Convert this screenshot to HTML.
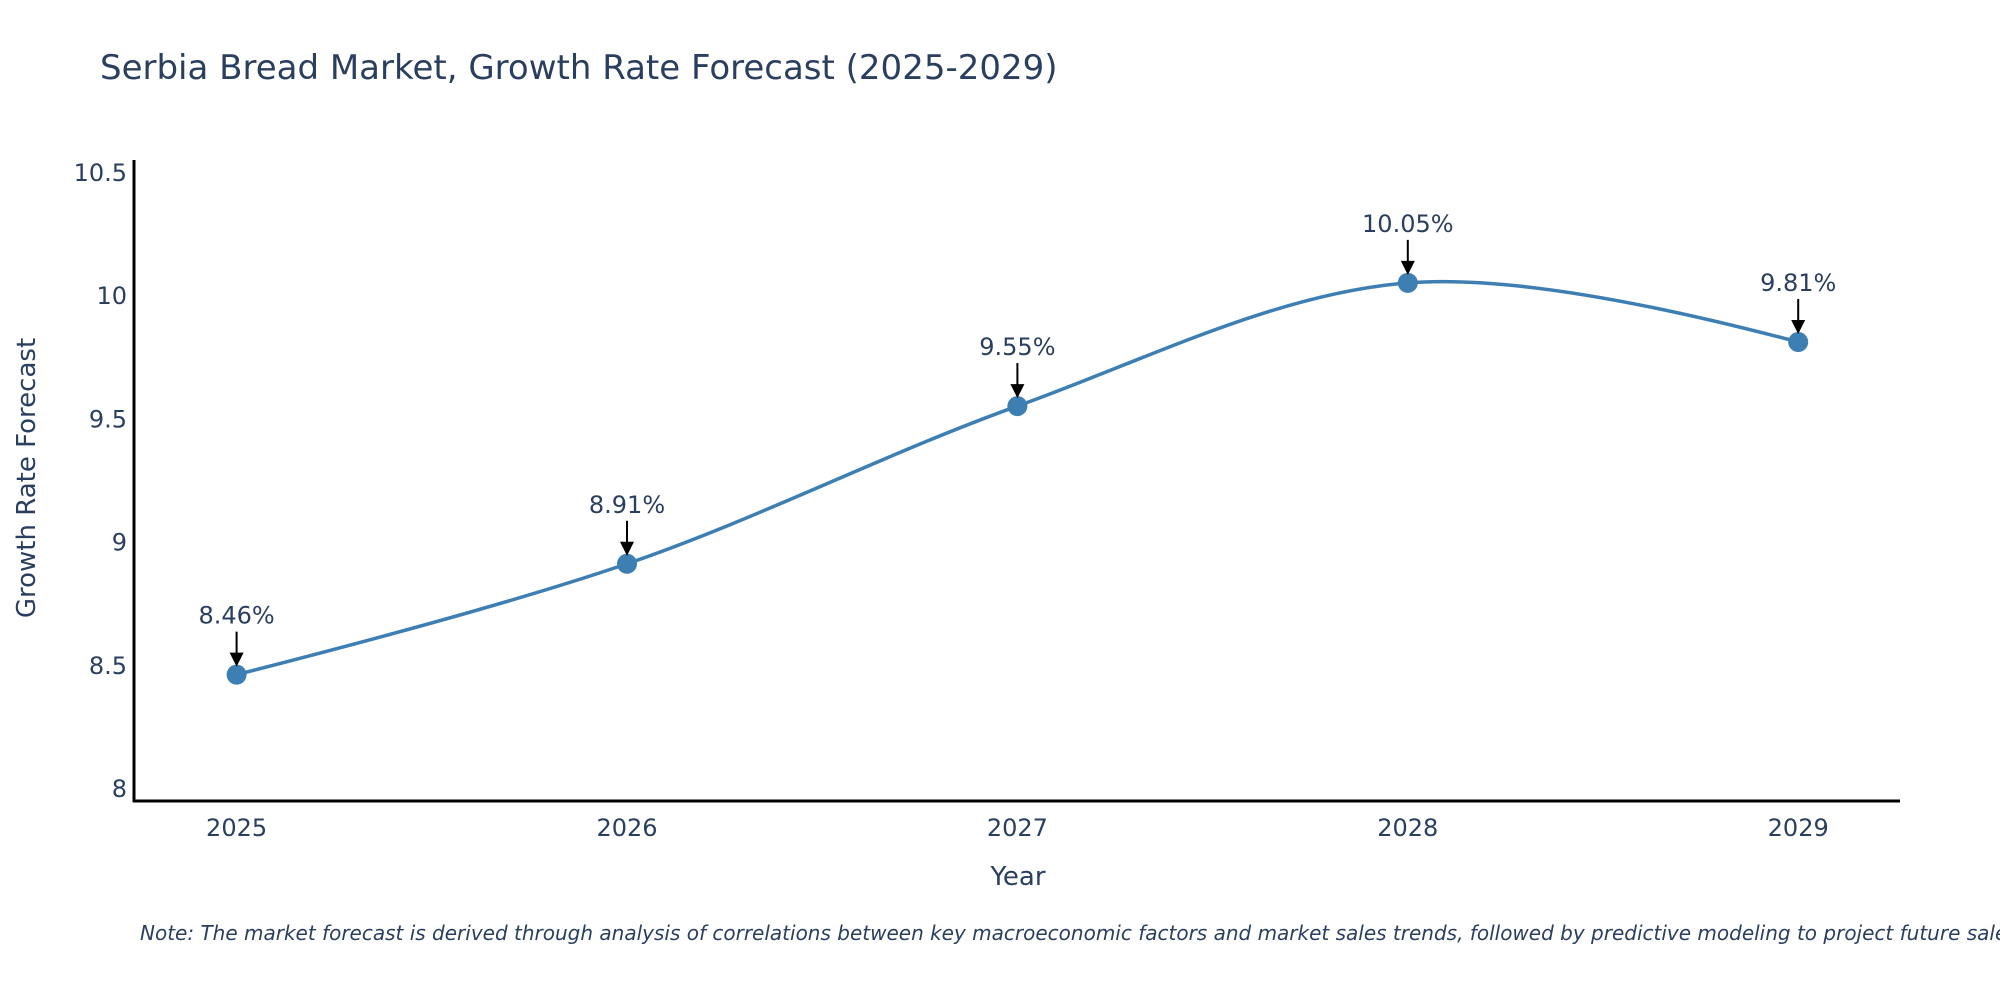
<!DOCTYPE html>
<html><head><meta charset="utf-8"><style>
body{margin:0;background:#fff}
svg{display:block;font-family:"DejaVu Sans","Liberation Sans",sans-serif}
</style></head><body>
<svg id="chart" width="2000" height="1000" viewBox="0 0 2000 1000">
<text x="100" y="79" font-size="34" fill="#2a3f5f">Serbia Bread Market, Growth Rate Forecast (2025-2029)</text>
<g id="yticks"></g>
<g id="xticks"></g>
<line x1="134" y1="160" x2="134" y2="802" stroke="#000" stroke-width="3"/>
<line x1="133" y1="801" x2="1900" y2="801" stroke="#000" stroke-width="3"/>
<text transform="translate(35,478) rotate(-90)" text-anchor="middle" font-size="26" fill="#2a3f5f">Growth Rate Forecast</text>
<text x="1018" y="885" text-anchor="middle" font-size="26" fill="#2a3f5f">Year</text>
<path id="line" fill="none" stroke="#3d7eb3" stroke-width="3.5"/>
<g id="marks"></g>
<text x="140" y="940" font-size="20" font-style="italic" fill="#2a3f5f">Note: The market forecast is derived through analysis of correlations between key macroeconomic factors and market sales trends, followed by predictive modeling to project future sales.</text>
</svg>
<script>
const years = ["2025","2026","2027","2028","2029"];
const values = [8.46, 8.91, 9.55, 10.05, 9.81];
const yTickValues = [8, 8.5, 9, 9.5, 10, 10.5];
const yTickLabels = ["8","8.5","9","9.5","10","10.5"];

const NS = "http://www.w3.org/2000/svg";
function xScale(i){ return 236.6 + i * 390.4; }
function yScale(v){ return 788 - (v - 8) / 0.5 * 123.2; }
function mk(tag, attrs, parent){ const e = document.createElementNS(NS, tag); for (const k in attrs) e.setAttribute(k, attrs[k]); parent.appendChild(e); return e; }

const yt = document.getElementById('yticks');
yTickValues.forEach((v, i) => {
  const t = mk('text', {x: 127, y: yScale(v) + 9, 'text-anchor': 'end', 'font-size': 24, fill: '#2a3f5f'}, yt);
  
  
  t.textContent = yTickLabels[i];
});
const xt = document.getElementById('xticks');
years.forEach((y, i) => {
  const t = mk('text', {x: xScale(i), y: 836, 'text-anchor': 'middle', 'font-size': 24, fill: '#2a3f5f'}, xt);
  
  
  t.textContent = y;
});

const pts = values.map((v, i) => [xScale(i), yScale(v)]);
function tangent(p0, p1, p2){
  const dxa = p0[0]-p1[0], dya = p0[1]-p1[1], dxb = p2[0]-p1[0], dyb = p2[1]-p1[1];
  const d1 = Math.pow(dxa*dxa+dya*dya, 0.25), d2 = Math.pow(dxb*dxb+dyb*dyb, 0.25);
  const nx = (d2*d2*dxa - d1*d1*dxb), ny = (d2*d2*dya - d1*d1*dyb);
  const den1 = 3*d2*(d1+d2), den2 = 3*d1*(d1+d2);
  return [[p1[0]+nx/den1, p1[1]+ny/den1], [p1[0]-nx/den2, p1[1]-ny/den2]];
}
const tg = [];
for (let i = 1; i < pts.length - 1; i++) tg.push(tangent(pts[i-1], pts[i], pts[i+1]));
let d = 'M' + pts[0] + 'Q' + tg[0][0] + ' ' + pts[1];
for (let i = 2; i < pts.length - 1; i++) d += 'C' + tg[i-2][1] + ' ' + tg[i-1][0] + ' ' + pts[i];
d += 'Q' + tg[tg.length-1][1] + ' ' + pts[pts.length-1];
document.getElementById('line').setAttribute('d', d);

const mg = document.getElementById('marks');
pts.forEach((p, i) => {
  const c = mk('circle', {cx: p[0], cy: p[1], r: 10, fill: '#3d7eb3'}, mg);
  
  
  const l = mk('line', {x1: p[0], y1: p[1]-43, x2: p[0], y2: p[1]-20, stroke: '#000', 'stroke-width': 2}, mg);
  
  
  const h = mk('polygon', {points: `${p[0]-7},${p[1]-22} ${p[0]+7},${p[1]-22} ${p[0]},${p[1]-8}`, fill: '#000'}, mg);
  
  
  const t = mk('text', {x: p[0], y: p[1]-51, 'text-anchor': 'middle', 'font-size': 24, fill: '#2a3f5f'}, mg);
  
  
  t.textContent = values[i].toFixed(2) + '%';
});
</script>
</body></html>
